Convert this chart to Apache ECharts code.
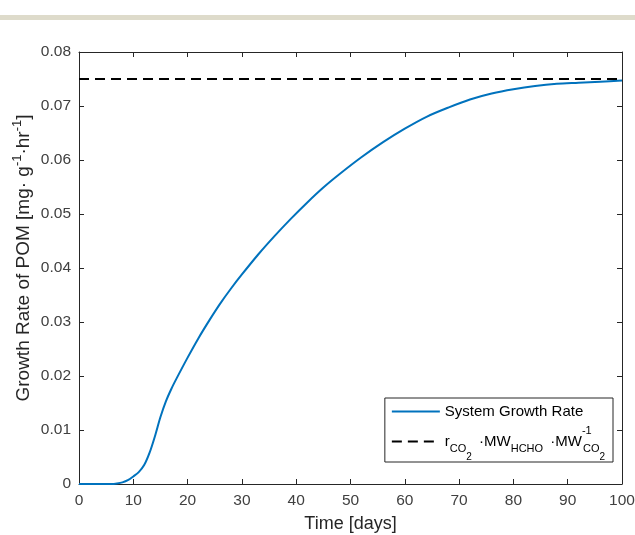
<!DOCTYPE html>
<html>
<head>
<meta charset="utf-8">
<script src="https://cdn.jsdelivr.net/npm/echarts@6/dist/echarts.min.js"></script>
<style>
  html, body { margin: 0; padding: 0; background: #fff; }
  #chart { width: 635px; height: 535px; }
</style>
</head>
<body>
<div id="chart"></div>
<script>
// values
const days = [0, 2, 4, 6, 7, 8, 9, 10, 11, 12, 13, 14, 15, 16, 17, 18, 20, 22, 24, 26, 28,
  30, 33, 36, 39, 42, 45, 48, 52, 56, 60, 64, 68, 72, 76, 80, 84, 88, 92, 96, 100];
const growthRate = [0, 0, 0, 0, 0.0001, 0.0003, 0.0007, 0.0014, 0.0022, 0.0035, 0.0058, 0.0089,
  0.0124, 0.0153, 0.0176, 0.0196, 0.0234, 0.0270, 0.0303, 0.0334, 0.0362,
  0.0388, 0.0425, 0.0459, 0.0491, 0.0521, 0.0549, 0.0574, 0.0605, 0.0633, 0.0658,
  0.0680, 0.0697, 0.0712, 0.0723, 0.0731, 0.0737, 0.0741, 0.0743, 0.0745, 0.0747];
const limitDays = [0, 100];
const limitRate = [0.075, 0.075];
const xTicks = [0, 100, 10];
const yTicks = [0, 0.08, 0.01];

const font = 'Liberation Sans, Arial, Helvetica, sans-serif';
const axisColor = '#262626';
const labelColor = '#404040';

const chart = echarts.init(document.getElementById('chart'), null, { renderer: 'canvas' });

// top / right axes only close the box, like matlab's "box on"
const boxAxis = (pos, ticks) => ({
  type: 'value',
  position: pos,
  min: ticks[0],
  max: ticks[1],
  interval: ticks[2],
  axisLine: { show: true, onZero: false, lineStyle: { color: axisColor, width: 1 } },
  axisTick: { show: true, inside: true, length: 5, lineStyle: { color: axisColor } },
  axisLabel: { show: false },
  splitLine: { show: false },
});

const option = {
  animation: false,
  backgroundColor: '#fff',
  textStyle: { fontFamily: font },
  graphic: [{
    type: 'rect',
    shape: { x: 0, y: 15, width: 635, height: 5 },
    style: { fill: '#dedbcb' },
    silent: true,
  }],
  grid: { left: 79, right: 13, top: 52, bottom: 51, containLabel: false, outerBoundsMode: 'none' },
  legend: {
    orient: 'vertical',
    right: 22,
    top: 398,
    padding: [6, 8, 0, 6],
    itemGap: 6,
    itemWidth: 48,
    itemHeight: 14,
    selectedMode: false,
    backgroundColor: '#fff',
    borderColor: axisColor,
    borderWidth: 1,
    itemStyle: { opacity: 0 },
    data: ['System Growth Rate', 'ratio'],
    formatter: (name) => name === 'ratio'
      ? '{m|r}{s|CO}{ss|2}{m| \u2009·MW}{s|HCHO}{m| \u2009·MW}{p|-1}{s|CO}{ss|2}'
      : name,
    textStyle: {
      fontSize: 15,
      color: '#000',
      fontFamily: font,
      rich: {
        m: { fontSize: 15, lineHeight: 32, color: '#000', fontFamily: font },
        p: { fontSize: 11, height: 10, lineHeight: 10, verticalAlign: 'top', width: 1, color: '#000', fontFamily: font },
        s: { fontSize: 11, height: 18, lineHeight: 18, verticalAlign: 'bottom', color: '#000', fontFamily: font },
        ss: { fontSize: 10, height: 1, lineHeight: 1, verticalAlign: 'bottom', color: '#000', fontFamily: font },
      },
    },
  },
  xAxis: [{
    type: 'value',
    min: xTicks[0],
    max: xTicks[1],
    interval: xTicks[2],
    name: 'Time [days]',
    nameLocation: 'middle',
    nameGap: 31,
    nameMoveOverlap: false,
    nameTextStyle: { fontSize: 18, color: '#262626', fontFamily: font },
    axisLine: { show: true, onZero: false, lineStyle: { color: axisColor, width: 1 } },
    axisTick: { show: true, inside: true, length: 5, lineStyle: { color: axisColor } },
    axisLabel: { fontSize: 15.5, color: labelColor, margin: 9, fontFamily: font },
    splitLine: { show: false },
  }, boxAxis('top', xTicks)],
  yAxis: [{
    type: 'value',
    min: yTicks[0],
    max: yTicks[1],
    interval: yTicks[2],
    name: '{m|Growth Rate of POM [mg· g}{p|-1}{m|·hr}{p|-1}{m|]}',
    nameLocation: 'middle',
    nameGap: 42,
    nameMoveOverlap: false,
    nameTextStyle: {
      fontSize: 19,
      color: '#262626',
      fontFamily: font,
      padding: [0, 0, 0, 20],
      rich: {
        m: { fontSize: 19, lineHeight: 26, color: '#262626', fontFamily: font },
        p: { fontSize: 13, height: 13, lineHeight: 13, verticalAlign: 'top', color: '#262626', fontFamily: font },
      },
    },
    axisLine: { show: true, onZero: false, lineStyle: { color: axisColor, width: 1 } },
    axisTick: { show: true, inside: true, length: 5, lineStyle: { color: axisColor } },
    axisLabel: { fontSize: 15.5, color: labelColor, margin: 8, fontFamily: font },
    splitLine: { show: false },
  }, boxAxis('right', yTicks)],
  series: [{
    name: 'System Growth Rate',
    type: 'line',
    xAxisIndex: 0,
    yAxisIndex: 0,
    symbol: 'none',
    smooth: 0.3,
    data: days.map((d, i) => [d, growthRate[i]]),
    lineStyle: { color: '#0072bd', width: 2 },
    itemStyle: { color: '#0072bd' },
  }, {
    name: 'ratio',
    type: 'line',
    xAxisIndex: 0,
    yAxisIndex: 0,
    symbol: 'none',
    data: limitDays.map((d, i) => [d, limitRate[i]]),
    lineStyle: { color: '#000', width: 2, type: [10, 6] },
    itemStyle: { color: '#000' },
  }],
};

chart.setOption(option);
</script>
</body>
</html>
